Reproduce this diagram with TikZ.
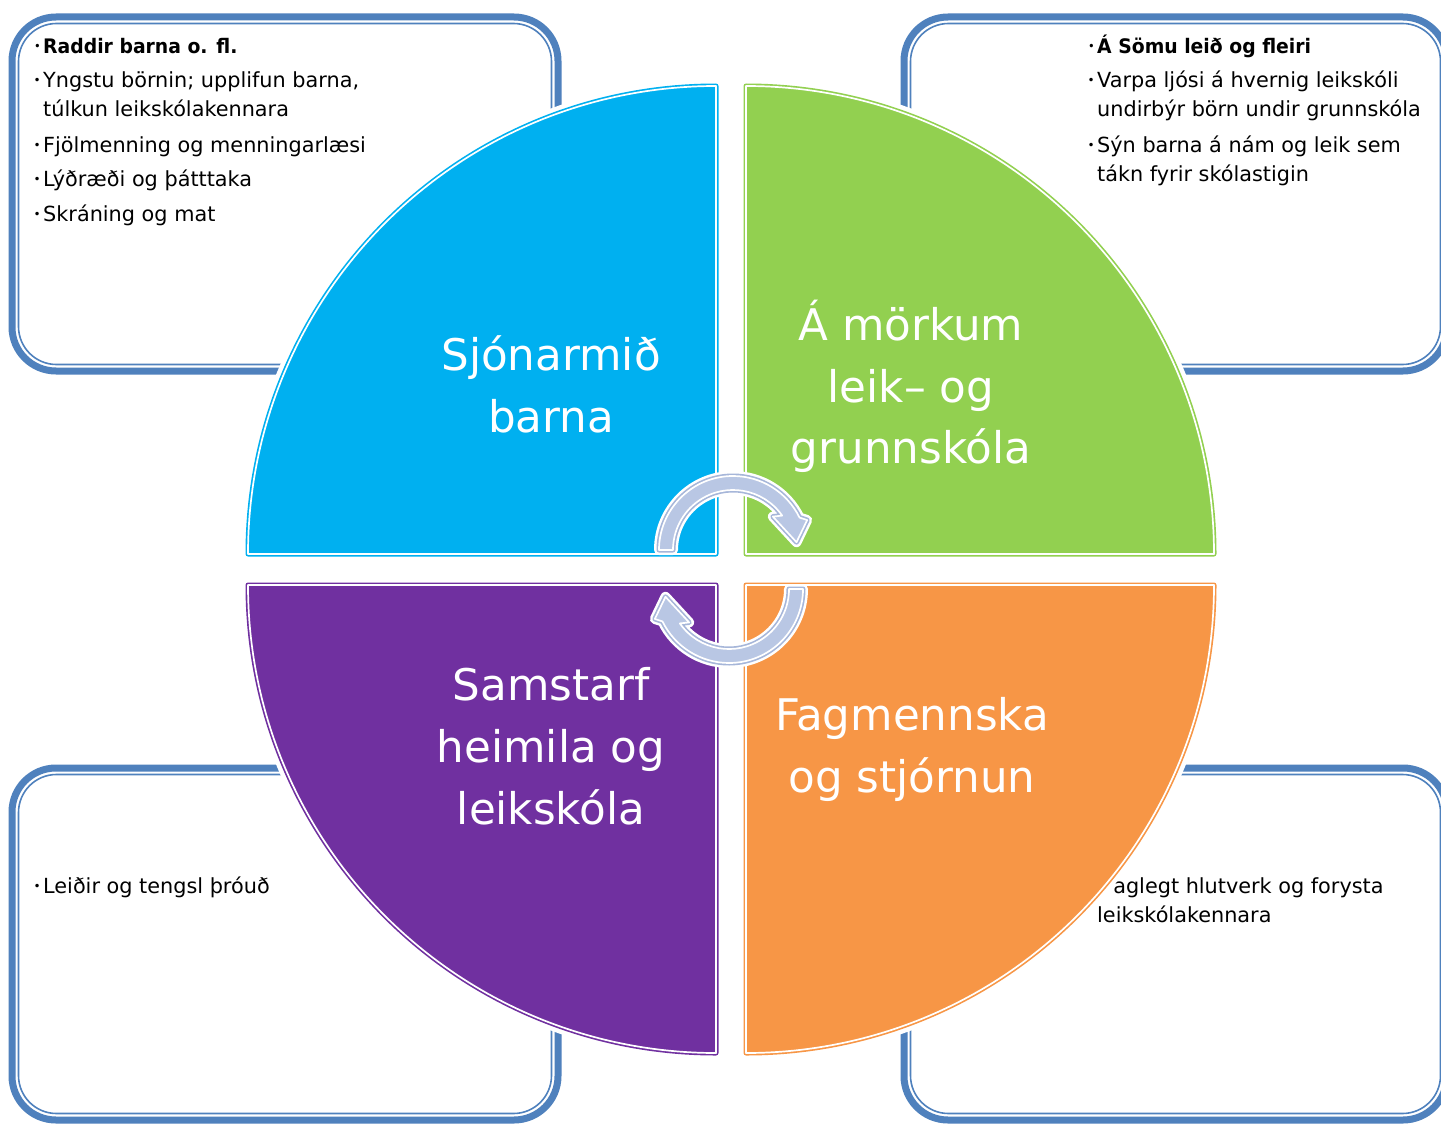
\documentclass[tikz,border=0pt]{standalone}
\usepackage{fontspec}
\setmainfont{DejaVu Sans}
\usetikzlibrary{calc}
\definecolor{boxblue}{HTML}{4F81BD}
\definecolor{qblue}{HTML}{00B0F0}
\definecolor{qgreen}{HTML}{92D050}
\definecolor{qpurple}{HTML}{7030A0}
\definecolor{qorange}{HTML}{F79646}
\definecolor{arrfill}{HTML}{B9C7E4}
\definecolor{arredge}{HTML}{A6B6D9}
\newcommand\bul{\llap{\raisebox{3pt}{\fontsize{12}{12}\mdseries\selectfont •}\hspace{2.5pt}}}
\newcommand\ringshape[4]{% fill, edge, halo width, path
  \path[draw=white,line width=#3,line join=round] #4;
  \path[draw=#2,line width=5pt,line join=round] #4;
  \path[fill=#1] #4;
  \path[draw=white,line width=1.7pt,line join=round] #4;}
\tikzset{
  boxouter/.style={draw=boxblue, line width=7pt, rounded corners=44pt},
  boxinner/.style={draw=boxblue, line width=1.6pt, rounded corners=38pt},
  bodytext/.style={anchor=base west, inner sep=0pt, font=\fontsize{20.8}{24}\selectfont, text=black},
  headtext/.style={bodytext, font=\fontsize{20}{24}\selectfont\bfseries\addfontfeatures{FakeStretch=0.94}},
  titletext/.style={anchor=base, inner sep=0pt, font=\fontsize{43.6}{50}\selectfont, text=white},
}
\begin{document}
\begin{tikzpicture}[x=1pt,y=-1pt]
\useasboundingbox (0,0) rectangle (1441,1124);
\clip (0,0) rectangle (1441,1124);
\fill[white] (0,0) rectangle (1441,1124);

% corner boxes
\draw[boxouter] (12,17) rectangle (558,371);
\draw[boxinner] (18.5,23.5) rectangle (551.5,364.5);
\draw[boxouter] (904,17) rectangle (1447,371);
\draw[boxinner] (910.5,23.5) rectangle (1440.5,364.5);
\draw[boxouter] (12,768) rectangle (558,1120);
\draw[boxinner] (18.5,774.5) rectangle (551.5,1113.5);
\draw[boxouter] (904,768) rectangle (1447,1120);
\draw[boxinner] (910.5,774.5) rectangle (1440.5,1113.5);

% box texts
\node[headtext] (tl1) at (43,54) {\bul Raddir barna o. fl.};
\node[bodytext] (tl2) at (43,88) {\bul Yngstu börnin; upplifun barna,};
\node[bodytext] (tl3) at (43,117) {túlkun leikskólakennara};
\node[bodytext] (tl4) at (43,152) {\bul Fjölmenning og menningarlæsi};
\node[bodytext] (tl5) at (43,186) {\bul Lýðræði og þátttaka};
\node[bodytext] (tl6) at (43,221) {\bul Skráning og mat};

\node[headtext] (tr1) at (1097,54) {\bul Á Sömu leið og fleiri};
\node[bodytext] (tr2) at (1097,88) {\bul Varpa ljósi á hvernig leikskóli};
\node[bodytext] (tr3) at (1097,117) {undirbýr börn undir grunnskóla};
\node[bodytext] (tr4) at (1097,152) {\bul Sýn barna á nám og leik sem};
\node[bodytext] (tr5) at (1097,181) {tákn fyrir skólastigin};

\node[bodytext] (bl1) at (43,893) {\bul Leiðir og tengsl þróuð};

\node[bodytext] (br1) at (1103,893) {Faglegt hlutverk og forysta};
\node[bodytext] (br2) at (1097,922) {leikskólakennara};

% quadrants
\ringshape{qblue}{qblue}{14pt}{(716,554) -- (248,554) arc[start angle=180,end angle=270,radius=468] -- cycle}
\ringshape{qgreen}{qgreen}{14pt}{(746,554) -- (746,86) arc[start angle=270,end angle=360,radius=468] -- cycle}
\ringshape{qpurple}{qpurple}{14pt}{(716,585) -- (716,1053) arc[start angle=90,end angle=180,radius=468] -- cycle}
\ringshape{qorange}{qorange}{14pt}{(746,585) -- (1214,585) arc[start angle=0,end angle=90,radius=468] -- cycle}

% titles
\node[titletext] (q1a) at (551,370) {Sjónarmið};
\node[titletext] (q1b) at (551,432) {barna};
\node[titletext] (q2a) at (911,340) {Á mörkum};
\node[titletext] (q2b) at (911,402) {leik– og};
\node[titletext] (q2c) at (911,463) {grunnskóla};
\node[titletext] (q3a) at (551,700) {Samstarf};
\node[titletext] (q3b) at (551,762) {heimila og};
\node[titletext] (q3c) at (551,824) {leikskóla};
\node[titletext] (q4a) at (912,730) {Fagmennska};
\node[titletext] (q4b) at (912,792) {og stjórnun};

% circular arrows
\coordinate (T) at (733,550);
\coordinate (Bc) at (729,589);
\ringshape{arrfill}{arredge}{10pt}{($(T)+(-180:74)$) arc[start angle=-180,end angle=-26,radius=74] -- ($(T)+(-22:80)$) -- ($(T)+(-7:64)$) -- ($(T)+(-40:52)$) -- ($(T)+(-35:60)$) arc[start angle=-35,end angle=-180,radius=60] -- cycle}
\ringshape{arrfill}{arredge}{10pt}{($(Bc)+(0:74)$) arc[start angle=0,end angle=154,radius=74] -- ($(Bc)+(158:80)$) -- ($(Bc)+(173:64)$) -- ($(Bc)+(140:52)$) -- ($(Bc)+(145:60)$) arc[start angle=145,end angle=0,radius=60] -- cycle}
\end{tikzpicture}
\end{document}
